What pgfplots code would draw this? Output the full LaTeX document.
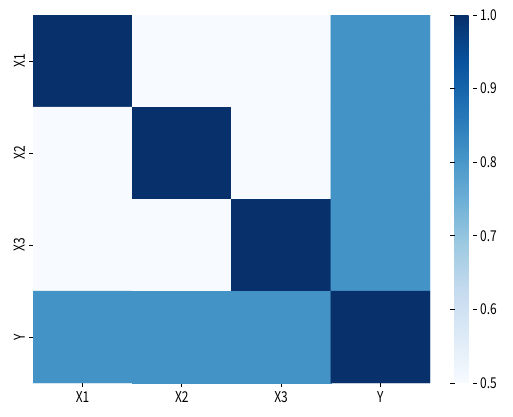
\documentclass[border=0pt]{standalone}
\usepackage{pgfplots}
\pgfplotsset{compat=1.18}
\usepackage{fontspec}
\setmainfont[FakeStretch=0.8]{Noto Sans CJK JP}
\begin{document}
\begin{tikzpicture}
\useasboundingbox (0,0) rectangle (513bp,417bp);
\begin{axis}[
    at={(33bp,34bp)}, anchor=south west,
    scale only axis, width=397bp, height=368bp,
    colormap={blues}{rgb255=(247,251,255) rgb255=(222,235,247) rgb255=(198,219,239)
      rgb255=(158,202,225) rgb255=(107,174,214) rgb255=(66,146,198)
      rgb255=(33,113,181) rgb255=(8,81,156) rgb255=(8,48,107)},
    point meta min=0.5, point meta max=1,
    xmin=-0.5, xmax=3.5, ymin=-0.5, ymax=3.5,
    y dir=reverse,
    enlargelimits=false,
    axis line style={draw=none},
    xtick={0,1,2,3}, ytick={0,1,2,3},
    xticklabels={X1,X2,X3,Y}, yticklabels={X1,X2,X3,Y},
    xticklabel style={font=\fontsize{15}{17}\selectfont, inner sep=4bp},
    yticklabel style={font=\fontsize{15}{17}\selectfont, rotate=90, anchor=south, inner sep=4bp},
    tick align=outside, major tick length=4bp,
    tick style={black, line width=0.8bp},
    xtick pos=bottom, ytick pos=left,
    colorbar right,
    colorbar style={
      at={(parent axis.north east)}, anchor=north west, xshift=16bp,
      scale only axis, width=18bp,
      axis line style={draw=none},
      ytick={0.5,0.6,0.7,0.8,0.9,1.0},
      yticklabel={\pgfmathprintnumber[fixed,fixed zerofill,precision=1]{\tick}},
      /pgf/number format/assume math mode=true,
      yticklabel style={font=\fontsize{15}{17}\selectfont, inner sep=3bp},
      tick align=outside, major tick length=4.5bp,
      tick style={black, line width=0.8bp},
    },
]
\addplot[matrix plot*, mesh/cols=4, point meta=explicit] coordinates {
  (0,0) [1.00] (1,0) [0.50] (2,0) [0.50] (3,0) [0.81]
  (0,1) [0.50] (1,1) [1.00] (2,1) [0.50] (3,1) [0.81]
  (0,2) [0.50] (1,2) [0.50] (2,2) [1.00] (3,2) [0.81]
  (0,3) [0.81] (1,3) [0.81] (2,3) [0.81] (3,3) [1.00]
};
\end{axis}
\end{tikzpicture}
\end{document}
